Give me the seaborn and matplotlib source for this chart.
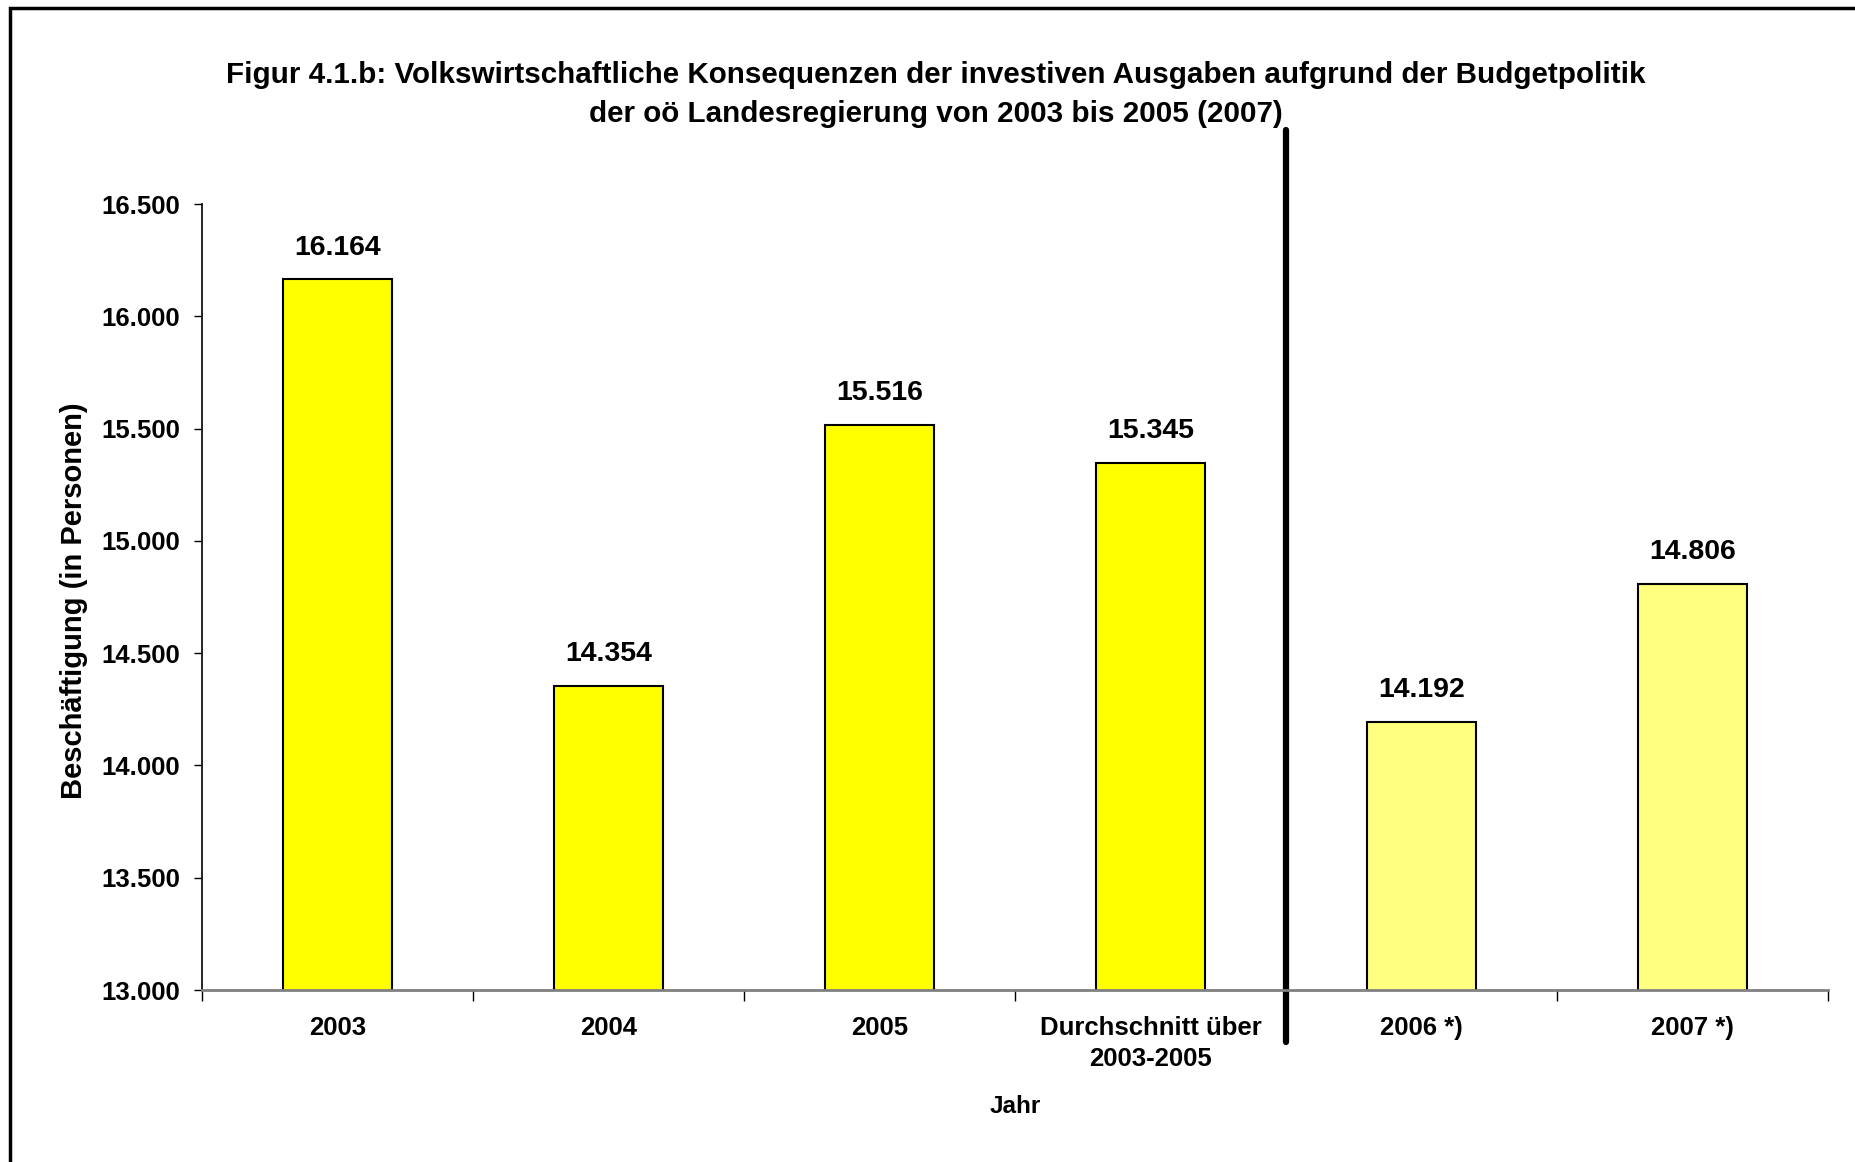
import matplotlib
matplotlib.use("Agg")
import matplotlib.pyplot as plt
import seaborn as sns
import pandas as pd
from matplotlib.ticker import FuncFormatter, FixedLocator
from matplotlib.patches import Rectangle

categories = ["2003", "2004", "2005", "Durchschnitt über\n2003-2005", "2006 *)", "2007 *)"]
values = [16164, 14354, 15516, 15345, 14192, 14806]
bar_colors = ["#FFFF00", "#FFFF00", "#FFFF00", "#FFFF00", "#FFFF80", "#FFFF80"]
value_labels = ["16.164", "14.354", "15.516", "15.345", "14.192", "14.806"]
yticks = [13000, 13500, 14000, 14500, 15000, 15500, 16000, 16500]

title = ("Figur 4.1.b: Volkswirtschaftliche Konsequenzen der investiven Ausgaben aufgrund der Budgetpolitik\n"
         "der oö Landesregierung von 2003 bis 2005 (2007)")

sns.set_theme(style="white")
plt.rcParams['font.family'] = ['Liberation Sans', 'DejaVu Sans']
plt.rcParams['text.color'] = 'black'
plt.rcParams['axes.labelcolor'] = 'black'
plt.rcParams['xtick.color'] = 'black'
plt.rcParams['ytick.color'] = 'black'

fig = plt.figure(figsize=(18.56, 11.62), dpi=100)
fig.patch.set_facecolor("white")
ax = fig.add_axes([202/1856, 1-990/1162, (1828-202)/1856, (990-204)/1162])

df = pd.DataFrame({"cat": categories, "val": values})
sns.barplot(data=df, x="cat", y="val", hue="cat", palette=bar_colors, legend=False,
            width=0.4, edgecolor="black", linewidth=1.5, ax=ax, saturation=1)

ax.set_ylim(13000, 16500)
ax.set_xlim(-0.5, len(categories) - 0.5)
ax.yaxis.set_major_locator(FixedLocator(yticks))
ax.yaxis.set_major_formatter(FuncFormatter(lambda v, p: f"{int(v):,}".replace(",", ".")))

for sp in ["top", "right"]:
    ax.spines[sp].set_visible(False)
ax.spines["left"].set_color("black")
ax.spines["left"].set_linewidth(1.2)
ax.spines["bottom"].set_color("#808080")
ax.spines["bottom"].set_linewidth(2)

ax.tick_params(axis="y", which="major", direction="out", length=6, width=1, color="black",
               left=True, pad=10, labelsize=18.5, labelcolor="black")
ax.tick_params(axis="x", which="major", length=0, pad=19, labelsize=18.5, labelcolor="black")
ax.set_xticks([i - 0.5 for i in range(len(categories) + 1)], minor=True)
ax.tick_params(axis="x", which="minor", direction="out", length=8, width=1, color="black", bottom=True)
for lbl in ax.get_yticklabels() + ax.get_xticklabels():
    lbl.set_fontweight("bold")
for lbl in ax.get_xticklabels():
    lbl.set_linespacing(1.35)

for i, (v, t) in enumerate(zip(values, value_labels)):
    ax.annotate(t, xy=(i, v), xytext=(0, 23), textcoords="offset points",
                ha="center", va="center", fontsize=20.5, fontweight="bold", color="black")

ax.set_xlabel("Jahr", fontsize=17.5, fontweight="bold", color="black")
ax.xaxis.set_label_coords(0.5, -0.133)
ax.set_ylabel("Beschäftigung (in Personen)", fontsize=21, fontweight="bold", color="black")
ax.yaxis.set_label_coords(-0.07, 0.495)

ax.axvline(3.5, ymin=-0.066, ymax=1.094, color="black", linewidth=4.5, clip_on=False)

fig.text(0.504, 0.919, title, ha="center", va="center", fontsize=21.3, fontweight="bold",
         linespacing=1.5, color="black")

fig.patches.append(Rectangle((10/1856, -0.5), 2, 1.5 - 8/1162, transform=fig.transFigure,
                             fill=False, edgecolor="black", linewidth=2.5))

fig.savefig("out.png", dpi=100)
